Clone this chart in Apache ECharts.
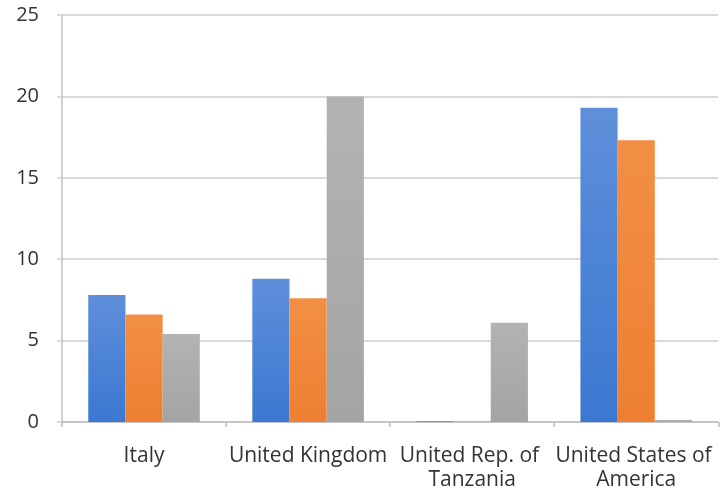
<!DOCTYPE html>
<html>
<head>
<meta charset="utf-8">
<script src="https://cdn.jsdelivr.net/npm/echarts@6/dist/echarts.min.js"></script>
<style>
  html, body { margin: 0; padding: 0; background: #ffffff; }
  #chart { width: 721px; height: 496px; }
</style>
</head>
<body>
<div id="chart"></div>
<script>
// Countries along the x axis
const categories = ['Italy', 'United Kingdom', 'United Rep. of Tanzania', 'United States of America'];

// Three unnamed series, one bar per country each
const seriesA = [7.8, 8.8, 0.05, 19.3];
const seriesB = [6.6, 7.6, 0.03, 17.3];
const seriesC = [5.4, 20.0, 6.1, 0.12];

// Y axis range and step
const yMin = 0;
const yMax = 25;
const yStep = 5;

function grad(top, bottom) {
  return new echarts.graphic.LinearGradient(0, 0, 0, 1, [
    { offset: 0, color: top },
    { offset: 1, color: bottom }
  ]);
}

const palette = [
  grad('#5f8fda', '#3b78d1'),
  grad('#f28f45', '#ee7f31'),
  grad('#b3b3b3', '#a4a4a4')
];

const textColor = '#333333';
const fontFamily = '"Open Sans", "Liberation Sans", sans-serif';

const chart = echarts.init(document.getElementById('chart'), null, { renderer: 'canvas' });

const makeBar = (data, i) => ({
  type: 'bar',
  data: data,
  barGap: '0%',
  barCategoryGap: '32%',
  itemStyle: { color: palette[i] },
  animation: false
});

chart.setOption({
  animation: false,
  backgroundColor: '#ffffff',
  grid: { left: 62, right: 1, top: 15, bottom: 74, containLabel: false },
  xAxis: {
    type: 'category',
    data: categories,
    axisLine: { show: true, lineStyle: { color: '#bfbfbf', width: 1.5 } },
    axisTick: { show: true, alignWithLabel: false, length: 5, lineStyle: { color: '#bfbfbf', width: 1.5 } },
    axisLabel: {
      interval: 0,
      color: textColor,
      fontFamily: fontFamily,
      fontSize: 21,
      lineHeight: 24,
      margin: 22,
      width: 164,
      overflow: 'break'
    },
    splitLine: { show: false }
  },
  yAxis: {
    type: 'value',
    min: yMin,
    max: yMax,
    interval: yStep,
    axisLine: { show: true, lineStyle: { color: '#bfbfbf', width: 1.5 } },
    axisTick: { show: true, length: 5, lineStyle: { color: '#d9d9d9', width: 2 } },
    axisLabel: {
      color: textColor,
      fontFamily: fontFamily,
      fontSize: 20,
      margin: 23
    },
    splitLine: { show: true, lineStyle: { color: '#d9d9d9', width: 2 } }
  },
  series: [seriesA, seriesB, seriesC].map(makeBar)
});
</script>
</body>
</html>
